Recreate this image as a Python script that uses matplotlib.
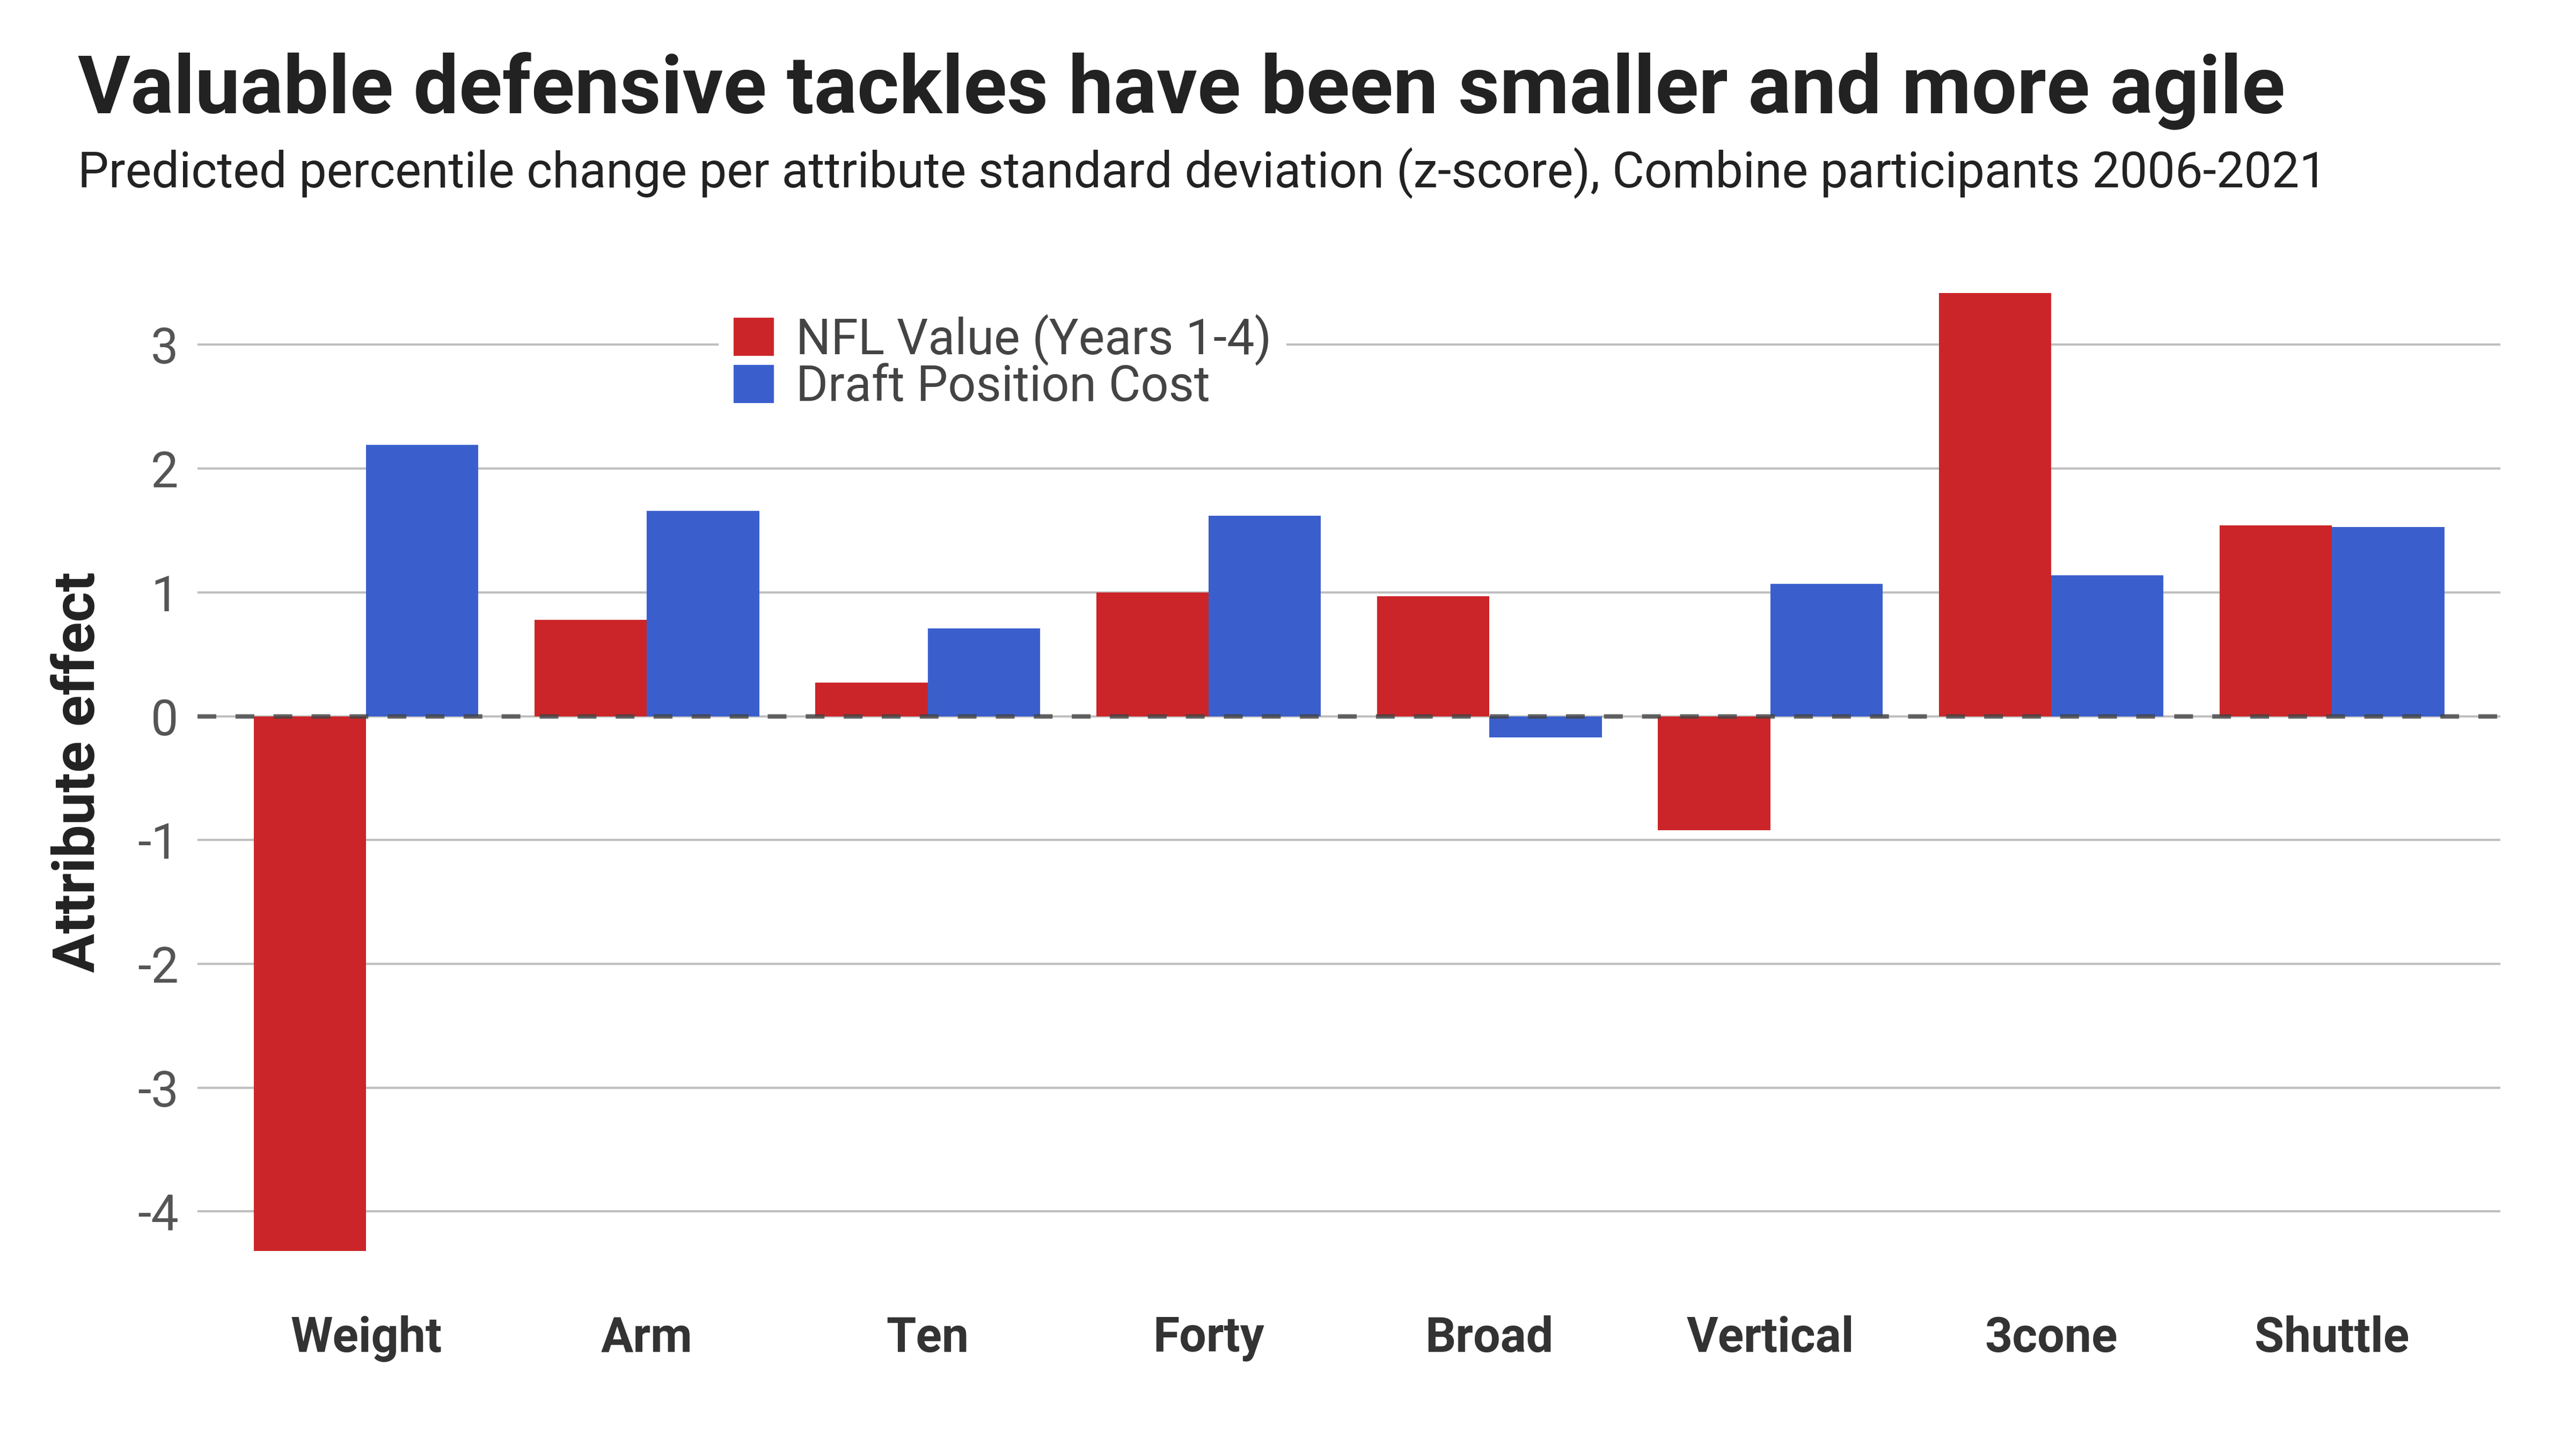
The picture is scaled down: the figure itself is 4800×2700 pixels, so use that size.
import matplotlib
matplotlib.use("Agg")
import matplotlib.pyplot as plt
import numpy as np

categories = ["Weight", "Arm", "Ten", "Forty", "Broad", "Vertical", "3cone", "Shuttle"]
nfl_value = [-4.32, 0.78, 0.27, 1.00, 0.97, -0.92, 3.42, 1.54]
draft_cost = [2.19, 1.66, 0.71, 1.62, -0.17, 1.07, 1.14, 1.53]
series_names = ["NFL Value (Years 1-4)", "Draft Position Cost"]
yticks = [-4, -3, -2, -1, 0, 1, 2, 3]

RED = "#CC2529"
BLUE = "#3A5FCD"

plt.rcParams['font.family'] = ['Roboto', 'DejaVu Sans']

fig = plt.figure(figsize=(16, 9), dpi=300)
ax = fig.add_axes([0.0767, 0.1169, 0.894, 0.7007])

x = np.arange(len(categories))
w = 0.4
ax.bar(x - w / 2, nfl_value, width=w, color=RED, label=series_names[0], zorder=2)
ax.bar(x + w / 2, draft_cost, width=w, color=BLUE, label=series_names[1], zorder=2)

ax.set_xlim(-0.6, 7.6)
ax.set_ylim(-4.55, 3.65)
ax.set_yticks(yticks)
ax.set_yticklabels([str(t) for t in yticks])
ax.yaxis.grid(True, color="#c0c0c0", linewidth=1.0, zorder=0)
ax.set_axisbelow(True)
ax.axhline(0, color="#444444", alpha=0.8, linewidth=2.0, dashes=(4.2, 4.3), zorder=3)

for s in ax.spines.values():
    s.set_visible(False)
ax.tick_params(axis="both", length=0)
ax.tick_params(axis="y", labelsize=22, labelcolor="#555555", pad=8.5)
ax.set_xticks(x)
ax.set_xticklabels(categories, fontsize=21.5, fontweight="bold", color="#333333")
ax.tick_params(axis="x", pad=16)

ax.set_ylabel("Attribute effect", fontsize=26, fontweight="bold", color="#222222", labelpad=14)

leg = fig.legend(loc="upper left", bbox_to_anchor=(0.279, 0.7935), frameon=True,
                 facecolor="white", edgecolor="none", framealpha=1.0,
                 fontsize=22, handlelength=0.82, handleheight=0.82, handletextpad=0.45,
                 labelspacing=-0.04, borderpad=0.3, borderaxespad=0)
for t in leg.get_texts():
    t.set_color("#444444")
leg.set_zorder(5)

fig.text(0.0303, 0.922, "Valuable defensive tackles have been smaller and more agile",
         fontsize=36, fontweight="bold", color="#222222", ha="left", va="baseline")
fig.text(0.0303, 0.871,
         "Predicted percentile change per attribute standard deviation (z-score), Combine participants 2006-2021",
         fontsize=22, color="#222222", ha="left", va="baseline")

fig.savefig("out.png", dpi=300, facecolor="white")
